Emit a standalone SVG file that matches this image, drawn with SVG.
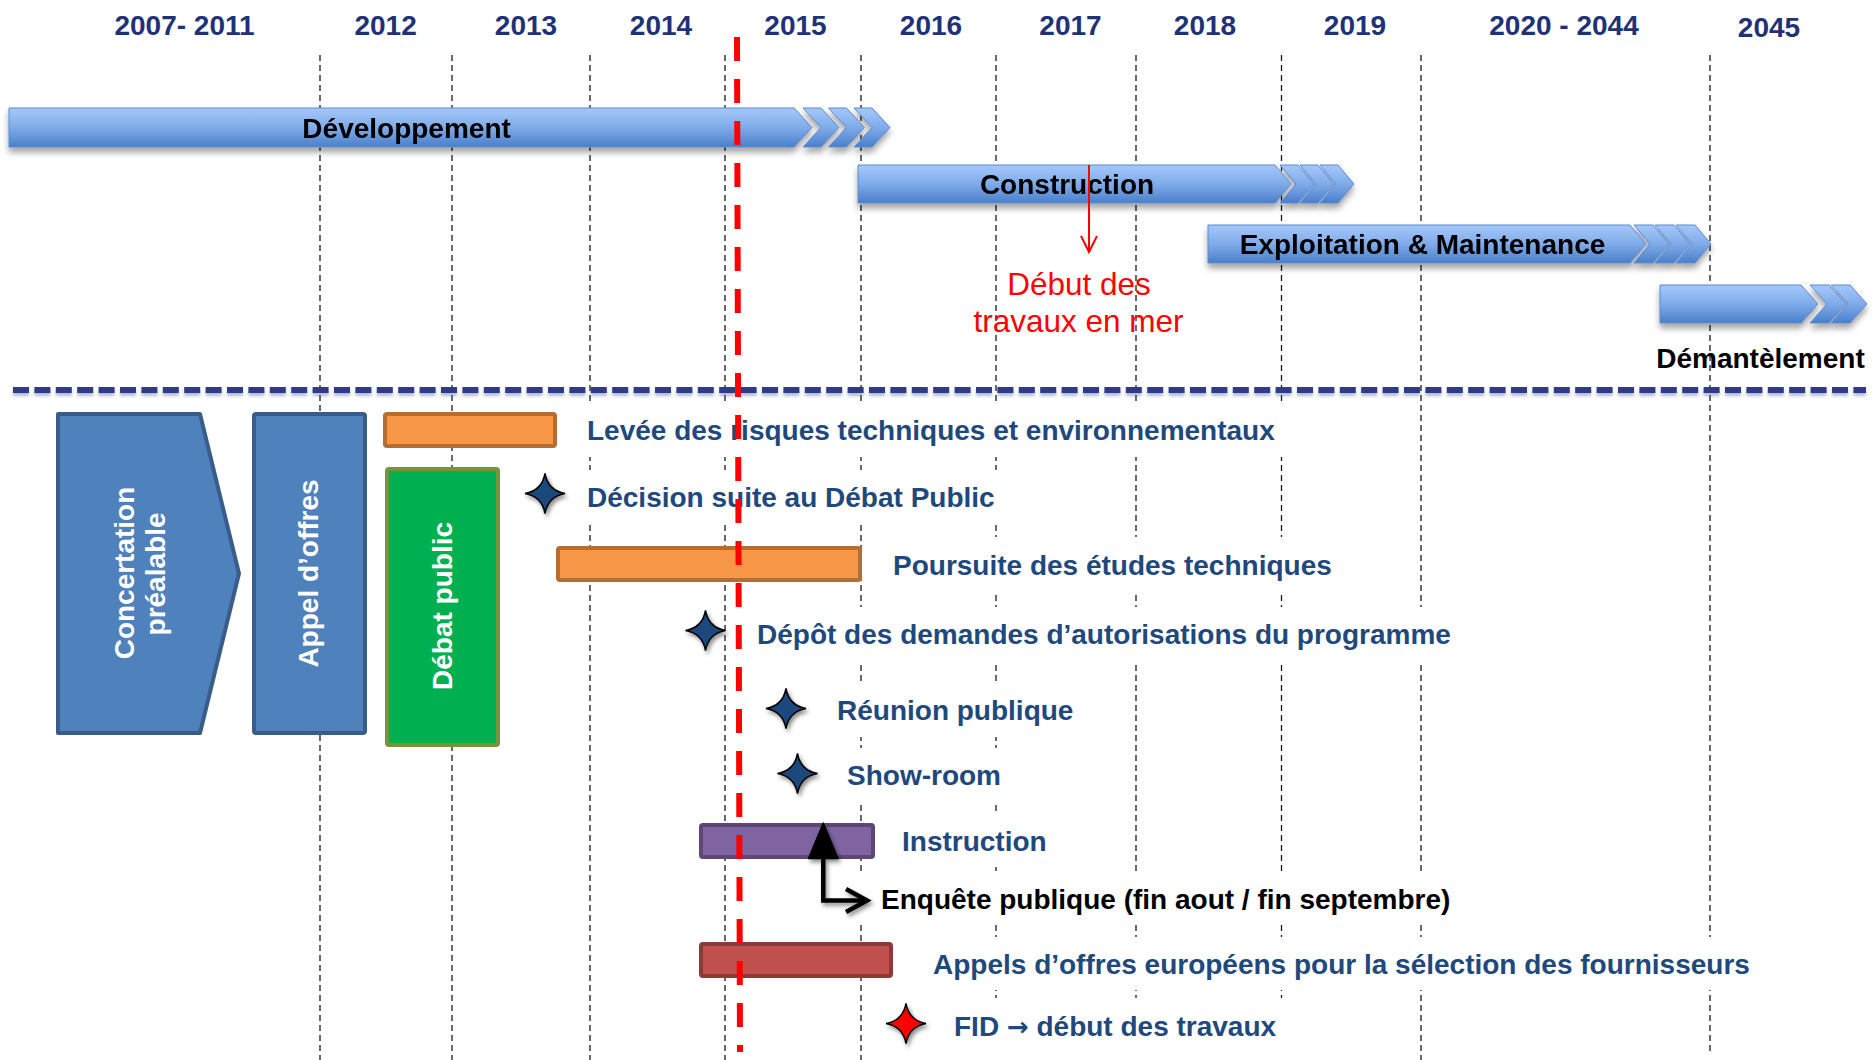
<svg xmlns="http://www.w3.org/2000/svg" width="1872" height="1060" viewBox="0 0 1872 1060">
  <defs>
    <linearGradient id="barGrad" x1="0" y1="0" x2="0" y2="1">
      <stop offset="0" stop-color="#A5C8FA"/>
      <stop offset="0.5" stop-color="#80ABE9"/>
      <stop offset="1" stop-color="#4A7FCB"/>
    </linearGradient>
    <filter id="barShadow" x="-5%" y="-30%" width="110%" height="170%">
      <feDropShadow dx="0" dy="5" stdDeviation="3" flood-color="#000" flood-opacity="0.35"/>
    </filter>
    <filter id="softShadow" x="-40%" y="-40%" width="180%" height="180%">
      <feDropShadow dx="2" dy="3" stdDeviation="2" flood-color="#000" flood-opacity="0.45"/>
    </filter>
    <filter id="lineShadow" filterUnits="userSpaceOnUse" x="0" y="375" width="1872" height="35">
      <feDropShadow dx="0" dy="3" stdDeviation="1.5" flood-color="#2E3B8B" flood-opacity="0.35"/>
    </filter>
    <path id="star4" d="M0,-20 Q3,-3 20,0 Q3,3 0,20 Q-3,3 -20,0 Q-3,-3 0,-20 Z"/>
    <style>
      .year { font-family: "Liberation Sans", Arial, sans-serif; font-weight: bold; font-size: 28px; fill: #1F3278; text-anchor: middle; }
      .phase { font-family: "Liberation Sans", Arial, sans-serif; font-weight: bold; font-size: 28px; fill: #000; text-anchor: middle; }
      .label { font-family: "Liberation Sans", Arial, sans-serif; font-weight: bold; font-size: 28px; fill: #1F497D; }
      .black { fill: #000; }
      .arrowglyph { font-family: "DejaVu Sans", sans-serif; font-weight: bold; font-size: 26px; }
      .vtext { font-family: "Liberation Sans", Arial, sans-serif; font-weight: bold; font-size: 28px; fill: #FFFFFF; text-anchor: middle; }
      .note { font-family: "Liberation Sans", Arial, sans-serif; font-size: 31.5px; fill: #FF0000; text-anchor: middle; }
      .grid { stroke: #1A1A1A; stroke-width: 1.3; stroke-dasharray: 6 4; fill: none; }
      .bar { fill: url(#barGrad); stroke: #5A8AD0; stroke-width: 1; }
      .mask { fill: #FFFFFF; }
      .star { stroke: #000; stroke-width: 1.5; }
      .orange { fill: #F79646; stroke: #B66D31; stroke-width: 4; }
    </style>
  </defs>

  <rect width="1872" height="1060" fill="#FFFFFF"/>

  <!-- year grid -->
  <g id="grid">
    <line class="grid" x1="320" y1="55" x2="320" y2="1060"/>
    <line class="grid" x1="452" y1="55" x2="452" y2="1060"/>
    <line class="grid" x1="590" y1="55" x2="590" y2="1060"/>
    <line class="grid" x1="725" y1="55" x2="725" y2="1060"/>
    <line class="grid" x1="861" y1="55" x2="861" y2="1060"/>
    <line class="grid" x1="996" y1="55" x2="996" y2="1060"/>
    <line class="grid" x1="1136" y1="55" x2="1136" y2="1060"/>
    <line class="grid" x1="1281.5" y1="55" x2="1281.5" y2="1060"/>
    <line class="grid" x1="1421" y1="55" x2="1421" y2="1060"/>
    <line class="grid" x1="1710" y1="55" x2="1710" y2="1052"/>
  </g>

  <g id="years">
    <text class="year" x="184.5" y="35">2007- 2011</text>
    <text class="year" x="385.6" y="35">2012</text>
    <text class="year" x="526" y="35">2013</text>
    <text class="year" x="661" y="35">2014</text>
    <text class="year" x="795.5" y="35">2015</text>
    <text class="year" x="931" y="35">2016</text>
    <text class="year" x="1070.5" y="35">2017</text>
    <text class="year" x="1205" y="35">2018</text>
    <text class="year" x="1355" y="35">2019</text>
    <text class="year" x="1564" y="35">2020 - 2044</text>
    <text class="year" x="1769" y="37">2045</text>
  </g>

  <!-- project phases -->
  <g id="developpement" filter="url(#barShadow)">
    <polygon class="bar" points="9,108 794,108 812,127.5 794,147 9,147"/>
    <polygon class="bar" points="803,108 821,108 839,127.5 821,147 803,147 821,127.5"/>
    <polygon class="bar" points="828.5,108 846.5,108 864.5,127.5 846.5,147 828.5,147 846.5,127.5"/>
    <polygon class="bar" points="854,108 872,108 890,127.5 872,147 854,147 872,127.5"/>
    <text class="phase" x="406.6" y="138">Développement</text>
  </g>

  <g id="construction" filter="url(#barShadow)">
    <polygon class="bar" points="858,165 1275,165 1291,184 1275,203 858,203"/>
    <polygon class="bar" points="1280,165 1298,165 1314,184 1298,203 1280,203 1296,184"/>
    <polygon class="bar" points="1300,165 1318,165 1334,184 1318,203 1300,203 1316,184"/>
    <polygon class="bar" points="1320,165 1338,165 1354,184 1338,203 1320,203 1336,184"/>
    <text class="phase" x="1067" y="194" font-size="27">Construction</text>
  </g>

  <g id="exploitation" filter="url(#barShadow)">
    <polygon class="bar" points="1208,225 1630,225 1646,244 1630,263 1208,263"/>
    <polygon class="bar" points="1634,225 1653,225 1669,244 1653,263 1634,263 1650,244"/>
    <polygon class="bar" points="1655,225 1674,225 1690,244 1674,263 1655,263 1671,244"/>
    <polygon class="bar" points="1676,225 1695,225 1711,244 1695,263 1676,263 1692,244"/>
    <text class="phase" x="1422.5" y="254">Exploitation &amp; Maintenance</text>
  </g>

  <g id="demantelement">
    <g filter="url(#barShadow)">
      <polygon class="bar" points="1660,285 1801,285 1818,304 1801,323 1660,323"/>
      <polygon class="bar" points="1810,285 1829,285 1846,304 1829,323 1810,323 1827,304"/>
      <polygon class="bar" points="1831,285 1850,285 1867,304 1850,323 1831,323 1848,304"/>
    </g>
    <text class="phase" x="1760.5" y="368">Démantèlement</text>
  </g>

  <g id="debut-travaux-mer">
    <text class="note" x="1079" y="295">Début des</text>
    <text class="note" x="1078.5" y="332">travaux en mer</text>
  </g>

  <!-- separator between phases and milestones -->
  <line id="separator" x1="13" y1="390" x2="1866" y2="390" stroke="#2E3B8B" stroke-width="6" stroke-dasharray="16 5.4" filter="url(#lineShadow)"/>

  <!-- early stages -->
  <g id="concertation">
    <polygon points="58,414 200,414 239,573.5 200,733 58,733" fill="#4F81BD" stroke="#385D8A" stroke-width="4" stroke-linejoin="round"/>
    <text class="vtext" transform="translate(134,573) rotate(-90)">Concertation</text>
    <text class="vtext" transform="translate(165,574) rotate(-90)">préalable</text>
  </g>

  <g id="appel-offres">
    <rect x="254" y="414" width="111" height="319" rx="2" fill="#4F81BD" stroke="#385D8A" stroke-width="4"/>
    <text class="vtext" transform="translate(318,573.5) rotate(-90)">Appel d’offres</text>
  </g>

  <g id="debat-public">
    <rect x="387" y="469" width="111" height="276" rx="2" fill="#00B050" stroke="#77933C" stroke-width="4"/>
    <text class="vtext" transform="translate(452,606) rotate(-90)">Débat public</text>
  </g>

  <!-- milestones -->
  <g id="levee-risques">
    <rect class="orange" x="385" y="414" width="170" height="32" rx="2"/>
    <rect class="mask" x="578" y="402" width="722" height="55"/>
    <text class="label" x="587" y="440">Levée des risques techniques et environnementaux</text>
  </g>

  <g id="decision">
    <use href="#star4" class="star" x="545" y="493.5" fill="#1F497D" filter="url(#softShadow)"/>
    <rect class="mask" x="578" y="470" width="432" height="53"/>
    <text class="label" x="587" y="507">Décision suite au Débat Public</text>
  </g>

  <g id="poursuite-etudes">
    <rect class="orange" x="558" y="548" width="302" height="32" rx="2"/>
    <rect class="mask" x="880" y="537" width="420" height="56"/>
    <text class="label" x="893" y="575">Poursuite des études techniques</text>
  </g>

  <g id="depot">
    <use href="#star4" class="star" x="705.5" y="630.5" fill="#1F497D" filter="url(#softShadow)"/>
    <rect class="mask" x="745" y="607" width="705" height="55"/>
    <text class="label" x="757" y="644">Dépôt des demandes d’autorisations du programme</text>
  </g>

  <g id="reunion">
    <use href="#star4" class="star" x="786" y="708.5" fill="#1F497D" filter="url(#softShadow)"/>
    <rect class="mask" x="825" y="683" width="185" height="54"/>
    <text class="label" x="837" y="720">Réunion publique</text>
  </g>

  <g id="showroom">
    <use href="#star4" class="star" x="797.5" y="773.5" fill="#1F497D" filter="url(#softShadow)"/>
    <rect class="mask" x="835" y="748" width="175" height="55"/>
    <text class="label" x="847" y="785">Show-room</text>
  </g>

  <g id="instruction">
    <rect x="701" y="825" width="172" height="32" rx="2" fill="#8064A2" stroke="#5C4776" stroke-width="4"/>
    <rect class="mask" x="885" y="813" width="125" height="54"/>
    <text class="label" x="902" y="851">Instruction</text>
  </g>

  <g id="enquete">
    <rect class="mask" x="855" y="872" width="605" height="53"/>
    <text class="label black" x="881" y="909">Enquête publique (fin aout / fin septembre)</text>
  </g>

  <g id="appels-europeens">
    <rect x="701" y="944" width="190" height="32" rx="2" fill="#C0504D" stroke="#8C3A38" stroke-width="4"/>
    <rect class="mask" x="915" y="937" width="845" height="53"/>
    <text class="label" x="933" y="974">Appels d’offres européens pour la sélection des fournisseurs</text>
  </g>

  <g id="fid">
    <use href="#star4" class="star" x="906" y="1023.5" fill="#FF0000" filter="url(#softShadow)"/>
    <rect class="mask" x="935" y="998" width="365" height="62"/>
    <text class="label" x="954" y="1036">FID <tspan class="arrowglyph">→</tspan> début des travaux</text>
  </g>

  <!-- connectors -->
  <g id="connectors">
    <g id="arrow-debut-travaux" stroke="#FF0000" stroke-width="2" fill="none">
      <line x1="1089" y1="165" x2="1089" y2="252"/>
      <polyline points="1081,236 1089,252 1097,236"/>
    </g>
    <g id="arrow-enquete" filter="url(#softShadow)">
      <polygon points="823.3,823 808.5,858.5 838,858.5" fill="#000" stroke="#000" stroke-width="1.5" stroke-linejoin="round"/>
      <polyline points="823.3,857 823.3,900.5 866,900.5" fill="none" stroke="#000" stroke-width="4.5"/>
      <polyline points="846,889 867,900.5 846,912" fill="none" stroke="#000" stroke-width="4.5" stroke-linejoin="miter"/>
    </g>
  </g>

  <!-- current date marker -->
  <line id="today" x1="737" y1="37" x2="740" y2="1052" stroke="#FF0000" stroke-width="6" stroke-dasharray="24 18"/>
</svg>
